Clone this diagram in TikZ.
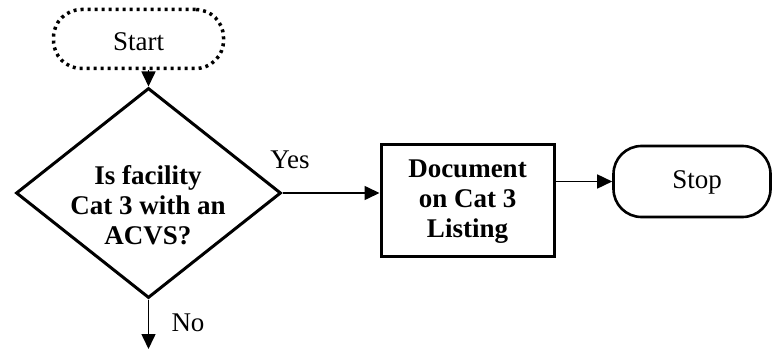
\documentclass[tikz,border=0pt]{standalone}
\usepackage{fontspec}
\setmainfont{Liberation Serif}
\usetikzlibrary{shapes.geometric,arrows.meta}
\begin{document}
\begin{tikzpicture}[x=1pt,y=-1pt,
  txt/.style={font=\fontsize{27}{30}\selectfont, align=center, inner sep=0pt},
  bold/.style={txt, font=\fontsize{27}{30}\selectfont\bfseries},
  arr/.style={line width=1.6pt, -{Triangle[length=15pt,width=14pt]}},
  startbox/.style={draw, line width=3.5pt, dash pattern=on 3pt off 4pt, rounded corners=28pt, minimum width=170pt, minimum height=59pt, inner sep=0pt},
  stopbox/.style={draw, line width=2.6pt, rounded corners=28pt, minimum width=157pt, minimum height=71pt, inner sep=0pt},
  procbox/.style={draw, line width=3pt, minimum width=173pt, minimum height=112pt, inner sep=0pt},
  decision/.style={draw, diamond, line width=3pt, minimum width=265pt, minimum height=210pt, inner sep=0pt}]
\useasboundingbox (0,0) rectangle (773,350);

% shapes
\node[startbox] (start) at (138.5,39) {};
\node[txt] (starttxt) at (138.5,42) {Start};
\node[decision] (dia) at (148.5,193) {};
\node[bold] (qtxt) at (148,205) {Is facility\\Cat 3 with an\\ACVS?};
\node[procbox] (doc) at (467.5,200) {};
\node[bold] (doctxt) at (467.5,202) {Document\\on Cat 3\\Listing};
\node[stopbox] (stop) at (692,181.5) {};
\node[txt] (stoptxt) at (697,182) {Stop};

% connectors
\coordinate (noend) at (148.5,349);
\draw[arr] (start.south -| dia.north) -- (dia.north);
\draw[arr] (dia.east) -- (dia.east -| doc.west);
\draw[arr] (stop.west -| doc.east) -- (stop.west);
\draw[arr] (dia.south) -- (noend);

% labels
\node[txt] (yes) at (290,160) {Yes};
\node[txt] (no) at (188,323) {No};
\end{tikzpicture}
\end{document}
